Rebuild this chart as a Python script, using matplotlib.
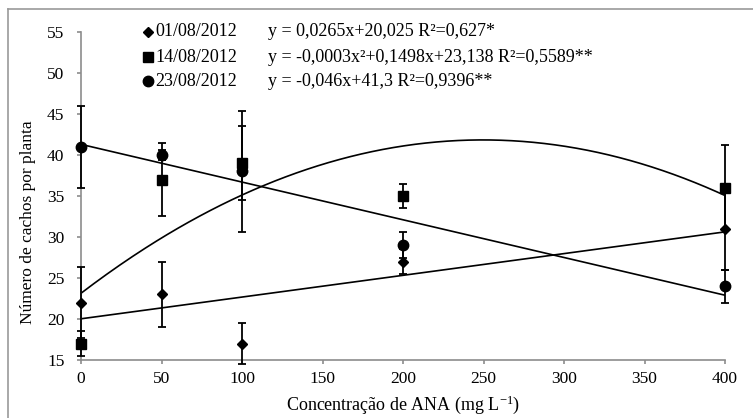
import matplotlib
matplotlib.use("Agg")
import matplotlib.pyplot as plt
import numpy as np
from matplotlib.lines import Line2D

plt.rcParams['font.family'] = ['Liberation Serif', 'DejaVu Serif']
plt.rcParams['mathtext.fontset'] = 'custom'
plt.rcParams['mathtext.rm'] = 'Liberation Serif'

# ANA concentrations (mg/L)
conc = [0, 50, 100, 200, 400]

dates = ["01/08/2012", "14/08/2012", "23/08/2012"]
equations = [
    "y = 0,0265x+20,025 R²=0,627*",
    "y = -0,0003x²+0,1498x+23,138 R²=0,5589**",
    "y = -0,046x+41,3 R²=0,9396**",
]

bunches_0108 = [22, 23, 17, 27, 31]
err_0108 = [4.3, 4.0, 2.5, 1.5, 5.0]
bunches_1408 = [17, 37, 39, 35, 36]
err_1408 = [1.5, 4.5, 4.5, 1.5, 5.2]
bunches_2308 = [41, 40, 38, 29, 24]
err_2308 = [5.0, 0.6, 7.4, 1.6, 2.0]

# regression coefficients (highest degree first)
fit_0108 = [0.0265, 20.025]
fit_1408 = [-0.0003, 0.1498, 23.138]
fit_2308 = [-0.046, 41.3]

W, H = 753, 418
fig = plt.figure(figsize=(W / 100, H / 100), dpi=100)
ax = fig.add_axes([81 / W, (H - 360) / H, (725 - 81) / W, (360 - 32) / H])

xs = np.linspace(0, 400, 300)
for coef in (fit_0108, fit_1408, fit_2308):
    ax.plot(xs, np.polyval(coef, xs), color='black', lw=1.2, zorder=2)

series = [
    (bunches_0108, err_0108, 'D', 5.0),
    (bunches_1408, err_1408, 's', 7.5),
    (bunches_2308, err_2308, 'o', 7.5),
]
for vals, errs, mk, ms in series:
    ax.errorbar(conc, vals, yerr=errs, fmt=mk, color='black', ms=ms,
                ecolor='black', elinewidth=1.3, capsize=3.2, capthick=1.3,
                zorder=3, clip_on=False)

ax.set_xlim(0, 400)
ax.set_ylim(15, 55)
ax.set_xticks(range(0, 401, 50))
ax.set_yticks(range(15, 56, 5))
for s in ('top', 'right'):
    ax.spines[s].set_visible(False)
for s in ('left', 'bottom'):
    ax.spines[s].set_color('#8c8c8c')
    ax.spines[s].set_linewidth(1.2)
ax.tick_params(axis='both', direction='out', length=3, width=1.2,
               color='#8c8c8c', labelsize=12.5)
ax.tick_params(axis='x', pad=5)
ax.tick_params(axis='y', pad=9)

fig.text(403 / W, (H - 410) / H,
         "Concentração de ANA (mg L$\\mathregular{^{-1}}$)",
         fontsize=13, ha='center', va='baseline')
fig.text(28 / W, (H - 222) / H, "Número de cachos por planta",
         fontsize=12.5, rotation=90, ha='center', va='center')

# legend drawn row by row: marker, date, fitted equation
rows_y = [32, 57, 81]
markers = [('D', 5.0), ('s', 7.5), ('o', 7.5)]
for yy, (mk, ms), d, eq in zip(rows_y, markers, dates, equations):
    fy = (H - yy) / H
    fig.add_artist(Line2D([148 / W], [fy], marker=mk, ms=ms, color='black',
                          ls='none', transform=fig.transFigure))
    fig.text(155 / W, fy, d, fontsize=13, va='center', ha='left')
    fig.text(268 / W, fy, eq, fontsize=13, va='center', ha='left')

# frame lines along the top and left edges
fig.add_artist(Line2D([8 / W, 1], [(H - 9) / H, (H - 9) / H], color='#999999',
                      lw=1.2, transform=fig.transFigure))
fig.add_artist(Line2D([8 / W, 8 / W], [0, (H - 9) / H], color='#999999',
                      lw=1.2, transform=fig.transFigure))

fig.savefig("out.png", dpi=100)
